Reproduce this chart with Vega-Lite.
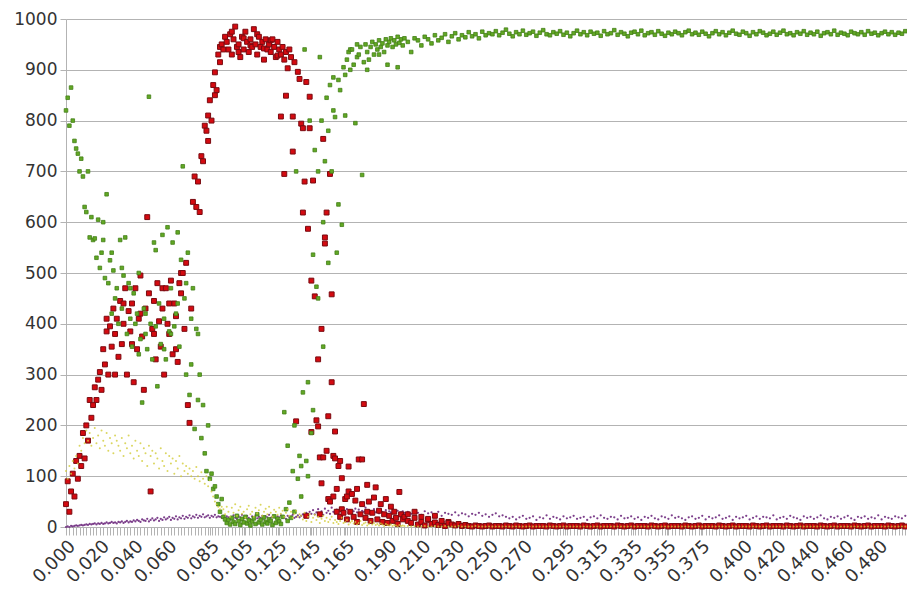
{
"$schema":"https://vega.github.io/schema/vega-lite/v6.json",
"width":841,"height":508,
"autosize":{"type":"none"},
"padding":{"left":66,"top":19,"right":0,"bottom":70},
"background":"white",
"config":{"view":{"stroke":null},"font":"DejaVu Sans"},
"data":{"values":[
{"x":0.000,"r":45,"g":820,"y":110,"p":0},
{"x":0.001,"r":90,"g":845,"y":95,"p":1},
{"x":0.002,"r":30,"g":790,"y":120,"p":0},
{"x":0.003,"r":70,"g":865,"y":105,"p":2},
{"x":0.004,"r":105,"g":800,"y":130,"p":1},
{"x":0.005,"r":60,"g":760,"y":115,"p":2},
{"x":0.006,"r":130,"g":745,"y":140,"p":3},
{"x":0.007,"r":95,"g":735,"y":125,"p":2},
{"x":0.008,"r":140,"g":700,"y":160,"p":3},
{"x":0.009,"r":120,"g":725,"y":150,"p":4},
{"x":0.010,"r":185,"g":690,"y":175,"p":3},
{"x":0.011,"r":135,"g":630,"y":165,"p":4},
{"x":0.012,"r":200,"g":620,"y":190,"p":5},
{"x":0.013,"r":170,"g":700,"y":170,"p":4},
{"x":0.014,"r":250,"g":570,"y":185,"p":6},
{"x":0.015,"r":215,"g":610,"y":160,"p":5},
{"x":0.016,"r":240,"g":565,"y":175,"p":6},
{"x":0.017,"r":275,"g":568,"y":195,"p":7},
{"x":0.018,"r":250,"g":530,"y":165,"p":5},
{"x":0.019,"r":290,"g":605,"y":180,"p":7},
{"x":0.020,"r":305,"g":510,"y":155,"p":6},
{"x":0.021,"r":270,"g":540,"y":190,"p":8},
{"x":0.022,"r":350,"g":565,"g2":600,"y":170,"p":6},
{"x":0.023,"r":320,"g":490,"y":160,"p":7},
{"x":0.024,"r":385,"r2":410,"g":655,"y":185,"p":9},
{"x":0.025,"r":300,"g":480,"y":150,"p":7},
{"x":0.026,"r":395,"g":525,"y":175,"p":8},
{"x":0.027,"r":355,"g":420,"g2":540,"y":165,"p":10},
{"x":0.028,"r":430,"g":505,"y":145,"p":8},
{"x":0.029,"r":380,"r2":300,"g":450,"y":180,"p":9},
{"x":0.030,"r":410,"g":470,"y":170,"p":7},
{"x":0.031,"r":335,"g":400,"y":160,"p":10},
{"x":0.032,"r":445,"g":565,"y":150,"p":9},
{"x":0.033,"r":360,"g":430,"g2":510,"y":175,"p":11},
{"x":0.034,"r":400,"r2":440,"g":495,"y":140,"p":8},
{"x":0.035,"r":470,"g":570,"y":165,"p":10},
{"x":0.036,"r":300,"g":380,"y":155,"p":12},
{"x":0.037,"r":425,"g":480,"y":180,"p":9},
{"x":0.038,"r":385,"g":410,"g2":470,"y":145,"p":11},
{"x":0.039,"r":440,"r2":360,"g":355,"y":160,"p":10},
{"x":0.040,"r":285,"g":460,"y":135,"p":13},
{"x":0.041,"r":470,"g":400,"y":170,"p":11},
{"x":0.042,"r":350,"g":420,"y":150,"p":14},
{"x":0.043,"r":410,"g":340,"g2":500,"y":140,"p":12},
{"x":0.044,"r":495,"r2":420,"g":370,"y":165,"p":10},
{"x":0.045,"r":375,"g":245,"y":130,"p":15},
{"x":0.046,"r":270,"g":430,"y":155,"p":13},
{"x":0.047,"r":430,"g":380,"g2":420,"y":145,"p":12},
{"x":0.048,"r":610,"g":350,"y":120,"p":16},
{"x":0.049,"r":460,"g":847,"y":160,"p":11},
{"x":0.050,"r":70,"g":400,"y":140,"p":14},
{"x":0.051,"r":390,"g":330,"y":150,"p":17},
{"x":0.052,"r":445,"r2":380,"g":560,"y":125,"p":13},
{"x":0.053,"r":330,"g":395,"g2":545,"y":145,"p":15},
{"x":0.054,"r":480,"g":277,"y":135,"p":18},
{"x":0.055,"r":405,"g":440,"y":115,"p":12},
{"x":0.056,"r":355,"g":360,"y":155,"p":16},
{"x":0.057,"r":430,"r2":470,"g":575,"y":130,"p":14},
{"x":0.058,"r":300,"g":410,"g2":350,"y":120,"p":19},
{"x":0.059,"r":470,"g":330,"y":145,"p":15},
{"x":0.060,"r":400,"g":590,"y":110,"p":17},
{"x":0.061,"r":380,"r2":440,"g":385,"y":140,"p":20},
{"x":0.062,"r":485,"g":470,"g2":380,"y":125,"p":14},
{"x":0.063,"r":340,"g":560,"y":135,"p":18},
{"x":0.064,"r":440,"g":395,"y":105,"p":16},
{"x":0.065,"r":415,"r2":350,"g":420,"y":130,"p":21},
{"x":0.066,"r":325,"g":580,"g2":440,"y":115,"p":15},
{"x":0.067,"r":480,"g":355,"y":140,"p":19},
{"x":0.068,"r":460,"r2":500,"g":526,"y":100,"p":17},
{"x":0.069,"r":500,"g":710,"y":125,"p":22},
{"x":0.070,"r":390,"g":450,"y":110,"p":16},
{"x":0.071,"r":520,"g":300,"g2":480,"y":120,"p":20},
{"x":0.072,"r":240,"g":540,"y":105,"p":18},
{"x":0.073,"r":205,"g":260,"y":115,"p":23},
{"x":0.074,"r":430,"g":410,"g2":320,"y":100,"p":17},
{"x":0.075,"r":640,"g":470,"y":110,"p":21},
{"x":0.076,"r":690,"g":193,"y":95,"p":19},
{"x":0.077,"r":630,"g":390,"y":118,"p":24},
{"x":0.078,"r":680,"g":250,"g2":380,"y":100,"p":18},
{"x":0.079,"r":620,"g":300,"y":90,"p":22},
{"x":0.080,"r":730,"g":175,"y":108,"p":20},
{"x":0.081,"r":720,"g":240,"y":95,"p":25},
{"x":0.082,"r":790,"g":145,"y":85,"p":19},
{"x":0.083,"r":780,"g":110,"y":100,"p":21},
{"x":0.084,"r":810,"r2":760,"g":200,"y":80,"p":23},
{"x":0.085,"r":840,"g":95,"y":92,"p":18},
{"x":0.086,"r":800,"g":105,"y":70,"p":22},
{"x":0.087,"r":870,"g":75,"y":60,"p":20},
{"x":0.088,"r":895,"r2":850,"g":80,"y":50,"p":24},
{"x":0.089,"r":860,"g":60,"y":45,"p":19},
{"x":0.090,"r":930,"g":45,"y":40,"p":21},
{"x":0.091,"r":915,"r2":945,"g":30,"y":35,"p":20},
{"x":0.092,"r":950,"g":55,"y":40,"p":18},
{"x":0.093,"r":940,"g":20,"y":35,"p":22},
{"x":0.094,"r":965,"g":15,"y":25,"p":17},
{"x":0.095,"r":955,"g":8,"y":40,"p":21},
{"x":0.096,"r":940,"g":14,"y":30,"p":19},
{"x":0.097,"r":970,"g":5,"y":20,"p":15},
{"x":0.098,"r":930,"r2":975,"g":18,"y":38,"p":20},
{"x":0.099,"r":960,"g":10,"y":28,"p":23},
{"x":0.100,"r":985,"g":6,"y":45,"p":18},
{"x":0.101,"r":945,"g":22,"y":22,"p":16},
{"x":0.102,"r":950,"r2":935,"g":12,"y":33,"p":21},
{"x":0.103,"r":925,"g":4,"y":40,"p":19},
{"x":0.104,"r":965,"g":16,"y":26,"p":24},
{"x":0.105,"r":940,"r2":962,"g":9,"y":30,"p":17},
{"x":0.106,"r":975,"g":20,"y":18,"p":20},
{"x":0.107,"r":955,"g":7,"y":35,"p":22},
{"x":0.108,"r":935,"g":13,"y":42,"p":18},
{"x":0.109,"r":960,"r2":948,"g":3,"y":25,"p":15},
{"x":0.110,"r":945,"g":11,"y":30,"p":21},
{"x":0.111,"r":980,"g":17,"y":20,"p":19},
{"x":0.112,"r":950,"g":6,"y":38,"p":23},
{"x":0.113,"r":930,"r2":970,"g":25,"y":27,"p":17},
{"x":0.114,"r":965,"g":9,"y":33,"p":20},
{"x":0.115,"r":945,"g":14,"y":44,"p":18},
{"x":0.116,"r":955,"g":5,"y":22,"p":22},
{"x":0.117,"r":920,"r2":942,"g":19,"y":30,"p":16},
{"x":0.118,"r":960,"g":10,"y":36,"p":21},
{"x":0.119,"r":940,"g":7,"y":25,"p":19},
{"x":0.120,"r":950,"g":15,"y":40,"p":24},
{"x":0.121,"r":935,"r2":958,"g":12,"y":28,"p":18},
{"x":0.122,"r":960,"g":4,"y":20,"p":20},
{"x":0.123,"r":945,"g":21,"y":34,"p":22},
{"x":0.124,"r":925,"g":8,"y":30,"p":17},
{"x":0.125,"r":955,"r2":928,"g":16,"y":24,"p":21},
{"x":0.126,"r":940,"g":11,"y":38,"p":19},
{"x":0.127,"r":930,"r2":808,"g":6,"y":26,"p":23},
{"x":0.128,"r":945,"g":20,"y":32,"p":18},
{"x":0.129,"r":920,"r2":695,"g":226,"y":20,"p":20},
{"x":0.130,"r":935,"r2":849,"g":35,"y":28,"p":16},
{"x":0.131,"r":903,"g":12,"g2":160,"y":35,"p":22},
{"x":0.132,"r":940,"g":48,"y":22,"p":19},
{"x":0.133,"r":925,"g":18,"y":30,"p":21},
{"x":0.134,"r":808,"r2":739,"g":110,"y":18,"p":24},
{"x":0.135,"r":915,"g":30,"g2":200,"y":26,"p":18},
{"x":0.136,"r":208,"g":700,"y":32,"p":20},
{"x":0.137,"r":896,"g":95,"y":20,"p":23},
{"x":0.138,"r":882,"g":140,"y":25,"p":19},
{"x":0.139,"r":794,"g":60,"g2":120,"y":22,"p":22},
{"x":0.140,"r":785,"r2":619,"g":265,"y":15,"p":25},
{"x":0.141,"r":680,"g":940,"y":28,"p":24},
{"x":0.142,"r":876,"r2":22,"g":130,"y":12,"p":28},
{"x":0.143,"r":587,"g":285,"g2":100,"y":20,"p":22},
{"x":0.144,"r":785,"r2":847,"g":800,"y":25,"p":30},
{"x":0.145,"r":485,"r2":187,"g":185,"y":10,"p":26},
{"x":0.146,"r":682,"g":536,"g2":230,"y":18,"p":33},
{"x":0.147,"r":454,"g":742,"y":24,"p":25},
{"x":0.148,"r":210,"g":473,"y":14,"p":29},
{"x":0.149,"r":198,"r2":330,"g":700,"g2":450,"y":20,"p":35},
{"x":0.150,"r":137,"r2":25,"g":925,"y":8,"p":27},
{"x":0.151,"r":86,"r2":390,"g":800,"y":16,"p":31},
{"x":0.152,"r":764,"r2":137,"g":355,"g2":600,"y":22,"p":24},
{"x":0.153,"r":558,"r2":570,"g":720,"y":12,"p":36},
{"x":0.154,"r":619,"r2":150,"g":845,"y":18,"p":28},
{"x":0.155,"r":218,"r2":55,"g":520,"g2":780,"y":10,"p":32},
{"x":0.156,"r":695,"r2":50,"g":870,"y":15,"p":26},
{"x":0.157,"r":458,"r2":285,"g":700,"y":20,"p":38},
{"x":0.158,"r":140,"r2":60,"g":885,"g2":820,"y":8,"p":30},
{"x":0.159,"r":188,"r2":135,"g":807,"y":14,"p":27},
{"x":0.160,"r":75,"r2":30,"g":540,"y":10,"p":34},
{"x":0.161,"r":120,"g":635,"g2":880,"y":6,"p":29},
{"x":0.162,"r":130,"r2":20,"g":860,"y":12,"p":37},
{"x":0.163,"r":96,"r2":35,"g":595,"y":18,"p":25},
{"x":0.164,"r":28,"g":905,"y":8,"p":32},
{"x":0.165,"r":55,"g":890,"g2":810,"y":10,"p":30},
{"x":0.166,"r":15,"r2":60,"g":920,"y":14,"p":35},
{"x":0.167,"r":119,"r2":70,"g":935,"y":5,"p":28},
{"x":0.168,"r":30,"g":900,"g2":940,"y":9,"p":33},
{"x":0.169,"r":65,"g":940,"y":12,"p":26},
{"x":0.170,"r":20,"g":910,"y":7,"p":31},
{"x":0.171,"r":52,"g":795,"y":10,"p":36},
{"x":0.172,"r":10,"r2":75,"g":925,"g2":950,"y":5,"p":29},
{"x":0.173,"r":133,"g":930,"y":8,"p":34},
{"x":0.174,"r":25,"g":945,"y":12,"p":27},
{"x":0.175,"r":45,"r2":133,"g":693,"y":4,"p":32},
{"x":0.176,"r":242,"g":915,"y":7,"p":30},
{"x":0.177,"r":18,"g":950,"y":9,"p":38},
{"x":0.178,"r":83,"r2":30,"g":935,"g2":900,"y":3,"p":28},
{"x":0.179,"r":50,"g":920,"y":6,"p":33},
{"x":0.180,"r":12,"g":945,"y":10,"p":31},
{"x":0.181,"r":28,"g":955,"y":5,"p":26},
{"x":0.182,"r":58,"g":930,"y":8,"p":35},
{"x":0.183,"r":78,"g":950,"y":4,"p":29},
{"x":0.184,"r":15,"g":940,"y":6,"p":32},
{"x":0.185,"r":32,"g":958,"g2":930,"y":3,"p":27},
{"x":0.186,"r":45,"g":945,"y":7,"p":34},
{"x":0.187,"r":10,"g":952,"y":5,"p":30},
{"x":0.188,"r":25,"g":935,"y":2,"p":28},
{"x":0.189,"r":55,"g":960,"y":6,"p":33},
{"x":0.190,"r":8,"g":948,"g2":910,"y":4,"p":26},
{"x":0.191,"r":22,"g":955,"y":3,"p":31},
{"x":0.192,"r":40,"g":962,"y":5,"p":29},
{"x":0.193,"r":12,"g":945,"y":2,"p":35},
{"x":0.194,"r":30,"g":958,"y":4,"p":27},
{"x":0.195,"r":18,"g":950,"y":3,"p":30},
{"x":0.196,"r":6,"g":905,"g2":965,"y":1,"p":32},
{"x":0.197,"r":69,"g":953,"y":4,"p":25},
{"x":0.198,"r":25,"g":960,"y":2,"p":29},
{"x":0.199,"r":15,"g":948,"y":3,"p":31},
{"x":0.200,"r":20,"g":962,"y":2,"p":28},
{"x":0.202,"r":12,"r2":25,"g":955,"y":2,"p":30},
{"x":0.204,"r":8,"g":935,"y":1,"p":26},
{"x":0.206,"r":18,"r2":30,"g":962,"y":2,"p":32},
{"x":0.208,"r":5,"g":958,"y":1,"p":28},
{"x":0.210,"r":10,"r2":20,"g":948,"y":1,"p":24},
{"x":0.212,"r":3,"g":965,"y":2,"p":31},
{"x":0.214,"r":14,"r2":16,"g":960,"y":1,"p":27},
{"x":0.216,"r":6,"g":952,"y":1,"p":29},
{"x":0.218,"r":9,"r2":22,"g":968,"y":2,"p":25},
{"x":0.220,"r":4,"g":958,"y":1,"p":30},
{"x":0.222,"r":7,"r2":12,"g":963,"y":1,"p":22},
{"x":0.224,"r":2,"g":970,"y":2,"p":28},
{"x":0.226,"r":10,"r2":8,"g":955,"y":1,"p":26},
{"x":0.228,"r":5,"g":966,"y":1,"p":24},
{"x":0.230,"r":3,"g":972,"y":1,"p":29},
{"x":0.232,"r":6,"g":960,"y":2,"p":23},
{"x":0.234,"r":2,"g":968,"y":1,"p":27},
{"x":0.236,"r":4,"g":964,"y":1,"p":25},
{"x":0.238,"r":2,"g":974,"y":1,"p":21},
{"x":0.240,"r":1,"g":966,"y":1,"p":26},
{"x":0.242,"r":3,"g":970,"y":2,"p":24},
{"x":0.244,"r":2,"g":962,"y":1,"p":28},
{"x":0.246,"r":1,"g":975,"y":1,"p":22},
{"x":0.248,"r":2,"g":968,"y":1,"p":25},
{"x":0.250,"r":3,"g":972,"y":1,"p":20},
{"x":0.252,"r":1,"g":970,"y":1,"p":24},
{"x":0.254,"r":2,"g":976,"y":1,"p":27},
{"x":0.256,"r":2,"g":968,"y":1,"p":21},
{"x":0.258,"r":1,"g":973,"y":1,"p":23},
{"x":0.260,"r":3,"g":979,"y":1,"p":20},
{"x":0.262,"r":2,"g":971,"y":1,"p":17},
{"x":0.264,"r":1,"g":966,"y":1,"p":20},
{"x":0.266,"r":3,"g":974,"y":1,"p":15},
{"x":0.268,"r":2,"g":970,"y":1,"p":19},
{"x":0.270,"r":1,"g":977,"y":1,"p":22},
{"x":0.272,"r":2,"g":969,"y":1,"p":16},
{"x":0.274,"r":3,"g":972,"y":1,"p":18},
{"x":0.276,"r":1,"g":975,"y":1,"p":21},
{"x":0.278,"r":2,"g":967,"y":1,"p":14},
{"x":0.280,"r":2,"g":973,"y":1,"p":19},
{"x":0.282,"r":2,"g":978,"y":1,"p":17},
{"x":0.284,"r":1,"g":970,"y":1,"p":23},
{"x":0.286,"r":3,"g":968,"y":1,"p":16},
{"x":0.288,"r":2,"g":974,"y":1,"p":20},
{"x":0.290,"r":1,"g":971,"y":1,"p":18},
{"x":0.292,"r":2,"g":976,"y":1,"p":15},
{"x":0.294,"r":3,"g":969,"y":1,"p":21},
{"x":0.296,"r":1,"g":973,"y":1,"p":17},
{"x":0.298,"r":2,"g":966,"y":1,"p":19},
{"x":0.300,"r":2,"g":972,"y":1,"p":22},
{"x":0.302,"r":2,"g":977,"y":1,"p":16},
{"x":0.304,"r":1,"g":970,"y":1,"p":18},
{"x":0.306,"r":3,"g":974,"y":1,"p":20},
{"x":0.308,"r":2,"g":968,"y":1,"p":14},
{"x":0.310,"r":1,"g":975,"y":1,"p":19},
{"x":0.312,"r":2,"g":971,"y":1,"p":21},
{"x":0.314,"r":3,"g":973,"y":1,"p":17},
{"x":0.316,"r":1,"g":967,"y":1,"p":23},
{"x":0.318,"r":2,"g":976,"y":1,"p":18},
{"x":0.320,"r":2,"g":970,"y":1,"p":16},
{"x":0.322,"r":2,"g":972,"y":1,"p":20},
{"x":0.324,"r":1,"g":978,"y":1,"p":19},
{"x":0.326,"r":3,"g":969,"y":1,"p":15},
{"x":0.328,"r":2,"g":974,"y":1,"p":22},
{"x":0.330,"r":1,"g":971,"y":1,"p":17},
{"x":0.332,"r":2,"g":966,"y":1,"p":18},
{"x":0.334,"r":3,"g":973,"y":1,"p":21},
{"x":0.336,"r":1,"g":975,"y":1,"p":16},
{"x":0.338,"r":2,"g":970,"y":1,"p":19},
{"x":0.340,"r":2,"g":977,"y":1,"p":14},
{"x":0.342,"r":2,"g":968,"y":1,"p":20},
{"x":0.344,"r":1,"g":972,"y":1,"p":18},
{"x":0.346,"r":3,"g":974,"y":1,"p":22},
{"x":0.348,"r":2,"g":969,"y":1,"p":17},
{"x":0.350,"r":1,"g":976,"y":1,"p":15},
{"x":0.352,"r":2,"g":971,"y":1,"p":21},
{"x":0.354,"r":3,"g":967,"y":1,"p":19},
{"x":0.356,"r":1,"g":973,"y":1,"p":16},
{"x":0.358,"r":2,"g":970,"y":1,"p":23},
{"x":0.360,"r":2,"g":975,"y":1,"p":18},
{"x":0.362,"r":2,"g":972,"y":1,"p":20},
{"x":0.364,"r":1,"g":968,"y":1,"p":17},
{"x":0.366,"r":3,"g":974,"y":1,"p":14},
{"x":0.368,"r":2,"g":977,"y":1,"p":19},
{"x":0.370,"r":1,"g":970,"y":1,"p":21},
{"x":0.372,"r":2,"g":973,"y":1,"p":16},
{"x":0.374,"r":3,"g":969,"y":1,"p":18},
{"x":0.376,"r":1,"g":975,"y":1,"p":22},
{"x":0.378,"r":2,"g":971,"y":1,"p":15},
{"x":0.380,"r":2,"g":966,"y":1,"p":20},
{"x":0.382,"r":2,"g":972,"y":1,"p":17},
{"x":0.384,"r":1,"g":976,"y":1,"p":19},
{"x":0.386,"r":3,"g":970,"y":1,"p":23},
{"x":0.388,"r":2,"g":974,"y":1,"p":16},
{"x":0.390,"r":1,"g":968,"y":1,"p":18},
{"x":0.392,"r":2,"g":973,"y":1,"p":21},
{"x":0.394,"r":3,"g":977,"y":1,"p":14},
{"x":0.396,"r":1,"g":971,"y":1,"p":20},
{"x":0.398,"r":2,"g":969,"y":1,"p":17},
{"x":0.400,"r":2,"g":975,"y":1,"p":19},
{"x":0.402,"r":2,"g":972,"y":1,"p":22},
{"x":0.404,"r":1,"g":967,"y":1,"p":15},
{"x":0.406,"r":3,"g":974,"y":1,"p":18},
{"x":0.408,"r":2,"g":970,"y":1,"p":21},
{"x":0.410,"r":1,"g":976,"y":1,"p":16},
{"x":0.412,"r":2,"g":973,"y":1,"p":20},
{"x":0.414,"r":3,"g":968,"y":1,"p":19},
{"x":0.416,"r":1,"g":971,"y":1,"p":17},
{"x":0.418,"r":2,"g":975,"y":1,"p":23},
{"x":0.420,"r":2,"g":969,"y":1,"p":15},
{"x":0.422,"r":2,"g":973,"y":1,"p":18},
{"x":0.424,"r":1,"g":977,"y":1,"p":20},
{"x":0.426,"r":3,"g":970,"y":1,"p":16},
{"x":0.428,"r":2,"g":972,"y":1,"p":22},
{"x":0.430,"r":1,"g":968,"y":1,"p":19},
{"x":0.432,"r":2,"g":974,"y":1,"p":17},
{"x":0.434,"r":3,"g":971,"y":1,"p":14},
{"x":0.436,"r":1,"g":976,"y":1,"p":21},
{"x":0.438,"r":2,"g":969,"y":1,"p":18},
{"x":0.440,"r":2,"g":973,"y":1,"p":20},
{"x":0.442,"r":2,"g":970,"y":1,"p":16},
{"x":0.444,"r":1,"g":975,"y":1,"p":19},
{"x":0.446,"r":3,"g":967,"y":1,"p":23},
{"x":0.448,"r":2,"g":972,"y":1,"p":17},
{"x":0.450,"r":1,"g":974,"y":1,"p":15},
{"x":0.452,"r":2,"g":970,"y":1,"p":20},
{"x":0.454,"r":3,"g":977,"y":1,"p":18},
{"x":0.456,"r":1,"g":969,"y":1,"p":21},
{"x":0.458,"r":2,"g":973,"y":1,"p":16},
{"x":0.460,"r":2,"g":971,"y":1,"p":19},
{"x":0.462,"r":2,"g":968,"y":1,"p":22},
{"x":0.464,"r":1,"g":975,"y":1,"p":17},
{"x":0.466,"r":3,"g":972,"y":1,"p":14},
{"x":0.468,"r":2,"g":970,"y":1,"p":20},
{"x":0.470,"r":1,"g":974,"y":1,"p":18},
{"x":0.472,"r":2,"g":969,"y":1,"p":21},
{"x":0.474,"r":3,"g":976,"y":1,"p":16},
{"x":0.476,"r":1,"g":971,"y":1,"p":19},
{"x":0.478,"r":2,"g":973,"y":1,"p":17},
{"x":0.480,"r":2,"g":968,"y":1,"p":23},
{"x":0.482,"r":2,"g":972,"y":1,"p":15},
{"x":0.484,"r":1,"g":975,"y":1,"p":20},
{"x":0.486,"r":3,"g":970,"y":1,"p":18},
{"x":0.488,"r":2,"g":974,"y":1,"p":16},
{"x":0.490,"r":1,"g":969,"y":1,"p":21},
{"x":0.492,"r":2,"g":973,"y":1,"p":19},
{"x":0.494,"r":3,"g":971,"y":1,"p":17},
{"x":0.496,"r":1,"g":976,"y":1,"p":22}
]},
"encoding":{
"x":{"field":"x","type":"quantitative","scale":{"domain":[0,0.497],"nice":false,"zero":false},
"axis":{"title":null,"grid":false,"domainColor":"#b3b3b3","tickColor":"#b3b3b3","tickSize":8,"labelAngle":-45,"labelFontSize":18,"labelColor":"#333333","labelPadding":2,"labelFlush":false,"labelOverlap":false,"labelBound":false,
"values":[0,0.002,0.004,0.006,0.008,0.01,0.012,0.014,0.016,0.018,0.02,0.022,0.024,0.026,0.028,0.03,0.032,0.034,0.036,0.038,0.04,0.042,0.044,0.046,0.048,0.05,0.052,0.054,0.056,0.058,0.06,0.062,0.064,0.066,0.068,0.07,0.072,0.074,0.076,0.078,0.08,0.082,0.084,0.085,0.086,0.088,0.09,0.092,0.094,0.096,0.098,0.1,0.102,0.104,0.105,0.106,0.108,0.11,0.112,0.114,0.116,0.118,0.12,0.122,0.124,0.125,0.126,0.128,0.13,0.132,0.134,0.136,0.138,0.14,0.142,0.144,0.145,0.146,0.148,0.15,0.152,0.154,0.156,0.158,0.16,0.162,0.164,0.165,0.166,0.168,0.17,0.172,0.174,0.176,0.178,0.18,0.182,0.184,0.186,0.188,0.19,0.192,0.194,0.196,0.198,0.2,0.202,0.204,0.206,0.208,0.21,0.212,0.214,0.216,0.218,0.22,0.222,0.224,0.226,0.228,0.23,0.232,0.234,0.236,0.238,0.24,0.242,0.244,0.246,0.248,0.25,0.252,0.254,0.256,0.258,0.26,0.262,0.264,0.266,0.268,0.27,0.272,0.274,0.276,0.278,0.28,0.282,0.284,0.286,0.288,0.29,0.292,0.294,0.295,0.296,0.298,0.3,0.302,0.304,0.306,0.308,0.31,0.312,0.314,0.315,0.316,0.318,0.32,0.322,0.324,0.326,0.328,0.33,0.332,0.334,0.335,0.336,0.338,0.34,0.342,0.344,0.346,0.348,0.35,0.352,0.354,0.355,0.356,0.358,0.36,0.362,0.364,0.366,0.368,0.37,0.372,0.374,0.375,0.376,0.378,0.38,0.382,0.384,0.386,0.388,0.39,0.392,0.394,0.396,0.398,0.4,0.402,0.404,0.406,0.408,0.41,0.412,0.414,0.416,0.418,0.42,0.422,0.424,0.426,0.428,0.43,0.432,0.434,0.436,0.438,0.44,0.442,0.444,0.446,0.448,0.45,0.452,0.454,0.456,0.458,0.46,0.462,0.464,0.466,0.468,0.47,0.472,0.474,0.476,0.478,0.48,0.482,0.484,0.486,0.488,0.49,0.492,0.494,0.496],
"labelExpr":"indexof([0,0.02,0.04,0.06,0.085,0.105,0.125,0.145,0.165,0.19,0.21,0.23,0.25,0.27,0.295,0.315,0.335,0.355,0.375,0.4,0.42,0.44,0.46,0.48], datum.value) >= 0 ? format(datum.value, '.3f') : ''"}},
"y":{"field":"v","type":"quantitative","scale":{"domain":[0,1000],"nice":false},
"axis":{"title":null,"format":"d","values":[0,100,200,300,400,500,600,700,800,900,1000],"grid":true,"gridColor":"#b3b3b3","gridWidth":1,"domainColor":"#b3b3b3","tickColor":"#b3b3b3","tickSize":6,"labelFontSize":17,"labelColor":"#333333","labelPadding":3}}
},
"layer":[
{"transform":[{"fold":["p"],"as":["s","v"]},{"filter":"isValid(datum.v)"}],
 "mark":{"type":"circle","size":5,"fill":"#6e2a7e","opacity":0.9}},
{"transform":[{"fold":["r","r2"],"as":["s","v"]},{"filter":"isValid(datum.v)"}],
 "mark":{"type":"square","size":24,"fill":"#d40a10","stroke":"#7a0a10","strokeWidth":1,"opacity":1}},
{"transform":[{"fold":["g","g2"],"as":["s","v"]},{"filter":"isValid(datum.v)"}],
 "mark":{"type":"square","size":13,"fill":"#62a824","stroke":"#437f18","strokeWidth":0.8,"opacity":1}},
{"transform":[{"fold":["y"],"as":["s","v"]},{"filter":"isValid(datum.v)"}],
 "mark":{"type":"circle","size":4,"fill":"#d2cc38","opacity":0.8}}
]
}
